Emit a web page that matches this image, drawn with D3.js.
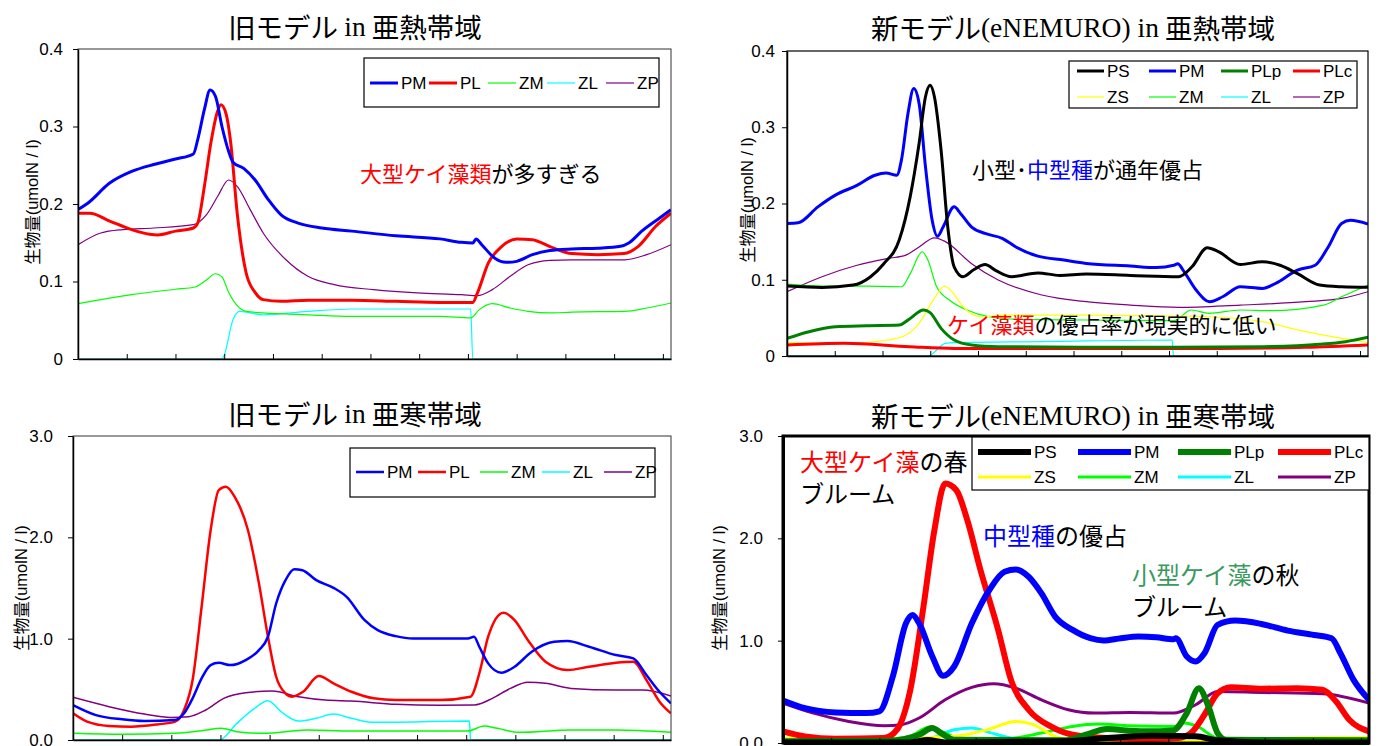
<!DOCTYPE html>
<html>
<head>
<meta charset="utf-8">
<script src="https://cdn.jsdelivr.net/npm/d3@7"></script>
<style>
  body { margin: 0; background: #fff; }
  text { font-family: "Liberation Sans Narrow", "Liberation Sans", Arial, sans-serif; }
  .jp { font-family: "Noto Sans CJK JP", sans-serif; }
</style>
</head>
<body>
<script>
// days of the year on x, biomass (umolN/l) on y ; each series is [day, value]
const dayTicks = d3.range(0, 361, 30);

// old model, subtropical
const oldTropPM = [[0,0.193],[6,0.201],[19.5,0.227],[33,0.242],[46.6,0.251],[60,0.258],[71,0.2645],[73.7,0.283],[77.8,0.322],[81.3,0.347],[84.6,0.339],[88.6,0.300],[92.7,0.268],[95.4,0.254],[102,0.246],[109,0.231],[117,0.206],[125,0.186],[136,0.175],[150,0.169],[168.6,0.165],[195.7,0.159],[222.8,0.155],[236,0.1505],[243,0.1497],[245,0.155],[248.5,0.1475],[256.6,0.130],[263.4,0.1247],[270,0.126],[279.7,0.1346],[290.5,0.140],[304,0.142],[320,0.143],[334,0.1454],[339,0.1497],[347,0.165],[358,0.182],[365,0.1927]];
const oldTropPL = [[0,0.188],[7.3,0.188],[19.5,0.178],[33,0.167],[44,0.161],[49,0.160],[60,0.165],[71,0.169],[73.7,0.1755],[77.8,0.223],[81.8,0.279],[85.9,0.3196],[88,0.328],[91.3,0.315],[94,0.279],[98,0.188],[103.5,0.111],[109,0.086],[114,0.0766],[125,0.0744],[141.5,0.0757],[168.6,0.0757],[195.7,0.0744],[222.8,0.073],[243,0.073],[245.8,0.085],[252.6,0.124],[260.7,0.145],[270,0.155],[279.7,0.154],[290.5,0.145],[304,0.136],[320,0.1346],[336,0.136],[344.7,0.145],[355.5,0.171],[365,0.188]];
const oldTropZM = [[0,0.0714],[33,0.083],[60,0.090],[72,0.0929],[79,0.102],[84.6,0.110],[88.6,0.106],[92.7,0.086],[98,0.0688],[103.5,0.0615],[114,0.0594],[141.5,0.057],[168.6,0.055],[222.8,0.055],[241.7,0.053],[247,0.0637],[255,0.0714],[266,0.0658],[277,0.0615],[290.5,0.0594],[304,0.0606],[336.6,0.0615],[350,0.0658],[365,0.0723]];
const oldTropZL = [[0,0],[88.6,0],[90,0.005],[95.4,0.0507],[99.5,0.0615],[114,0.057],[141.5,0.0615],[168.6,0.0645],[241.7,0.0645],[243,0],[365,0]];
const oldTropZP = [[0,0.1475],[14,0.1626],[27.6,0.167],[46.6,0.169],[71,0.1733],[79,0.186],[86,0.210],[92.7,0.231],[98,0.2228],[106,0.1927],[114,0.1626],[128,0.128],[141.5,0.1067],[157.7,0.0959],[182,0.0895],[209,0.0852],[236,0.083],[245.8,0.0817],[255,0.0895],[266,0.1067],[277,0.1217],[290.5,0.1273],[304,0.128],[336.6,0.128],[350,0.1346],[365,0.1475]];

// new model (eNEMURO), subtropical
const newTropPS = [[0,0.0917],[22,0.090],[41.5,0.093],[52.5,0.104],[60.8,0.121],[70.5,0.152],[77.4,0.209],[83,0.279],[87,0.340],[89.9,0.355],[92.6,0.340],[96.8,0.270],[101,0.169],[105,0.117],[110.6,0.104],[117.5,0.1135],[124.4,0.120],[131.3,0.112],[141,0.104],[157.6,0.109],[171.4,0.1057],[188,0.1074],[215.7,0.1057],[246,0.104],[254.4,0.117],[264,0.142],[271,0.137],[284.8,0.120],[298.6,0.1236],[309.7,0.119],[320.7,0.108],[334.6,0.093],[348.4,0.0908],[365,0.090]];
const newTropPM = [[0,0.1738],[7,0.1747],[19.4,0.1956],[30.4,0.211],[44.2,0.224],[55.3,0.237],[62.2,0.240],[69,0.237],[71.9,0.257],[76,0.318],[79.6,0.3507],[83,0.331],[87,0.248],[91.2,0.178],[94.5,0.157],[98,0.169],[105,0.1956],[109,0.187],[116,0.169],[124.4,0.1607],[135.5,0.154],[143.8,0.143],[157.6,0.131],[174,0.1258],[188,0.1214],[215.7,0.118],[232,0.116],[243,0.119],[245.5,0.121],[248.8,0.1127],[257,0.0865],[265.4,0.0712],[273.7,0.0777],[284.8,0.0908],[298.6,0.0886],[307,0.0952],[320.7,0.1127],[331.8,0.119],[340,0.143],[348.4,0.1738],[354,0.178],[365,0.173]];
const newTropPLp = [[0,0.0231],[13.8,0.0319],[30.4,0.0384],[50,0.0397],[70.5,0.0406],[77.4,0.0493],[85.7,0.0603],[89.9,0.0568],[96.8,0.0362],[105,0.021],[116,0.0144],[132.7,0.0122],[188,0.0114],[243,0.0114],[298.6,0.0122],[334.6,0.0153],[351,0.0188],[365,0.0245]];
const newTropPLc = [[0,0.0144],[36,0.0166],[77,0.0122],[105,0.010],[188,0.010],[271,0.010],[326,0.0114],[365,0.0144]];
const newTropZS = [[0,0.0175],[36,0.0166],[63.6,0.021],[74.7,0.0275],[83,0.0428],[91.2,0.0712],[99,0.0917],[103.7,0.0843],[110.6,0.0646],[121.7,0.0515],[138,0.0537],[188,0.0537],[243,0.0524],[265.4,0.0515],[298.6,0.045],[326,0.0319],[348.4,0.0231],[365,0.0175]];
const newTropZM = [[0,0.0943],[22,0.0917],[50,0.0917],[72,0.0908],[77.4,0.108],[85,0.1367],[88.5,0.1258],[94,0.0908],[102,0.0734],[113,0.0603],[127,0.0515],[146.5,0.048],[188,0.0472],[243,0.0463],[254,0.0603],[265,0.0559],[284.8,0.0603],[304,0.0594],[337,0.0668],[348.4,0.0777],[365,0.093]];
const newTropZL = [[0,0],[88.5,0],[99.5,0.0166],[105,0.0175],[160,0.0188],[242,0.021],[242.8,0],[365,0]];
const newTropZP = [[0,0.0843],[22,0.104],[44,0.119],[63.6,0.128],[74.7,0.1323],[83,0.143],[92.6,0.155],[99.5,0.150],[116,0.121],[132.7,0.0996],[160,0.080],[188,0.0712],[215.7,0.0668],[246,0.0638],[284.8,0.0668],[326,0.0712],[348.4,0.0755],[365,0.0843]];

// old model, subarctic
const oldArcPM = [[0,0.345],[14,0.246],[30,0.204],[43.6,0.187],[62.4,0.197],[67.8,0.263],[73,0.411],[78.5,0.608],[84,0.739],[89,0.762],[96,0.739],[105.4,0.789],[113.5,0.887],[119,1.019],[124,1.347],[129.7,1.577],[135,1.686],[140,1.676],[148.5,1.577],[159,1.502],[167,1.413],[178,1.183],[186,1.084],[197,1.025],[207.7,1.002],[223.8,1.002],[241,1.002],[244.8,1.019],[248,0.92],[253.4,0.756],[261.5,0.664],[269.5,0.723],[280,0.871],[293.7,0.969],[301.8,0.976],[315,0.920],[331.4,0.838],[342,0.805],[350,0.641],[358,0.476],[365,0.361]];
const oldArcPL = [[0,0.263],[8.6,0.181],[22,0.138],[35.5,0.131],[51.6,0.154],[62.4,0.181],[67.8,0.296],[73,0.592],[78.5,1.315],[84,2.070],[89,2.465],[93.3,2.498],[98.7,2.399],[106.8,2.070],[113.5,1.545],[119,1.019],[124,0.624],[129.7,0.460],[133.7,0.427],[140.4,0.476],[150,0.631],[159,0.559],[170,0.476],[183.5,0.411],[197,0.394],[223.8,0.394],[242.6,0.427],[248,0.657],[253.4,1.019],[262.8,1.255],[269.5,1.183],[277.6,0.986],[288.4,0.772],[301.8,0.690],[315,0.723],[331.4,0.762],[342,0.772],[350,0.592],[358,0.378],[365,0.263]];
const oldArcZM = [[0,0.066],[30,0.056],[62.4,0.066],[78.5,0.092],[90.6,0.115],[100,0.082],[116,0.066],[143,0.099],[170,0.089],[241,0.089],[251,0.138],[259,0.115],[272,0.076],[304,0.099],[331,0.099],[365,0.076]];
const oldArcZL = [[0,0],[89.3,0],[100,0.164],[110.8,0.312],[119,0.388],[127,0.279],[137.7,0.187],[148.5,0.214],[159,0.256],[170,0.214],[183.5,0.174],[242,0.187],[242.6,0],[365,0]];
const oldArcZP = [[0,0.421],[22,0.329],[43.6,0.256],[59.7,0.223],[70.5,0.230],[81,0.296],[92,0.411],[105.4,0.467],[121.6,0.483],[137.7,0.427],[154,0.394],[170,0.384],[197,0.352],[223.8,0.342],[245,0.345],[256,0.411],[267,0.509],[277.6,0.569],[288.4,0.559],[304,0.509],[331.4,0.493],[347.5,0.493],[365,0.434]];

// new model (eNEMURO), subarctic
const newArcPS = [[0,0.006],[79,0.006],[90,0.03],[101,0.006],[175,0.016],[202,0.049],[229.6,0.07],[257,0.065],[270.7,0.026],[298,0.006],[365,0.006]];
const newArcPM = [[0,0.416],[13.7,0.341],[32.8,0.299],[52,0.292],[60,0.309],[68.4,0.650],[76.6,1.170],[80.7,1.251],[84.8,1.170],[93,0.845],[99.8,0.656],[106.6,0.747],[117.6,1.170],[128.5,1.495],[138,1.674],[145,1.696],[153,1.625],[161,1.462],[169.5,1.235],[180.4,1.105],[191.4,1.024],[199.6,1.001],[210.5,1.024],[221.5,1.040],[232.4,1.033],[243.3,1.014],[244.7,1.024],[251.5,0.845],[257,0.796],[262.5,0.877],[270.7,1.154],[281.6,1.196],[298,1.163],[314.4,1.098],[330.8,1.056],[341.7,1.024],[347.2,0.877],[355.4,0.617],[365,0.422]];
const newArcPLp = [[0,0.016],[65.6,0.023],[84.8,0.081],[93,0.146],[98.4,0.097],[106.6,0.032],[175,0.026],[188.6,0.081],[202,0.136],[216,0.120],[227,0.114],[243,0.123],[251.5,0.292],[259,0.536],[265,0.357],[270.7,0.097],[276,0.032],[365,0.026]];
const newArcPLc = [[0,0.114],[13.7,0.065],[32.8,0.042],[63,0.049],[71,0.130],[79.3,0.520],[87.5,1.333],[94.3,2.080],[101,2.535],[108,2.47],[114.8,2.177],[123,1.690],[134,1.105],[142,0.617],[153,0.325],[166.8,0.162],[180.4,0.081],[202,0.049],[229.6,0.039],[246,0.049],[254,0.097],[262.5,0.276],[270.7,0.487],[279,0.546],[298,0.530],[319.8,0.536],[336,0.520],[344.5,0.406],[352.7,0.227],[365,0.114]];
const newArcZS = [[0,0.049],[52,0.039],[106.6,0.065],[128.5,0.136],[145,0.211],[156,0.179],[169.5,0.065],[188.6,0.016],[270.7,0.016],[298,0.039],[365,0.055]];
const newArcZM = [[0,0.026],[65.6,0.039],[79,0.065],[91.6,0.156],[101,0.097],[112,0.032],[134,0.032],[161,0.097],[180.4,0.162],[196.8,0.185],[216,0.169],[243.3,0.162],[250,0.195],[258,0.162],[270.7,0.049],[298,0.032],[365,0.039]];
const newArcZL = [[0,0],[84.8,0],[95.7,0.065],[106.6,0.130],[117.6,0.146],[128.5,0.104],[142,0.049],[161,0.032],[242,0.039],[243.3,0],[365,0]];
const newArcZP = [[0,0.390],[19,0.292],[41,0.211],[63,0.169],[73.8,0.179],[84.8,0.244],[101,0.422],[117.6,0.543],[131,0.578],[145,0.536],[161,0.422],[177.7,0.325],[194,0.292],[216,0.299],[243.3,0.292],[257,0.374],[270.7,0.504],[298,0.494],[336,0.481],[365,0.390]];

const col = { PS: "#000000", PM: "#0000ff", PLp: "#008000", PLc: "#ff0000", PL: "#ff0000",
              ZS: "#ffff00", ZM: "#00ff00", ZL: "#00ffff", ZP: "#800080" };

const svg = d3.select("body").append("svg").attr("width", 1379).attr("height", 746);

function richText(g, x, y, parts, size, cls) {
  const t = g.append("text").attr("x", x).attr("y", y).attr("font-size", size)
    .attr("dominant-baseline", "central");
  if (cls) t.attr("class", cls);
  parts.forEach(p => {
    const s = t.append("tspan").text(p[0]).attr("fill", p[1] || "#000");
    if (p[2]) s.attr("style", "font-family:" + p[2]);
  });
  return t;
}

const JP = '"Noto Sans CJK JP", sans-serif';
const SERIF = '"Liberation Serif", "DejaVu Serif", serif';

function panel(p) {
  const g = svg.append("g");
  const x = d3.scaleLinear().domain([0, 365]).range([p.left, p.right]);
  const y = d3.scaleLinear().domain([0, p.ymax]).range([p.bottom, p.top]);
  const id = "clip" + p.id;
  g.append("clipPath").attr("id", id).append("rect")
    .attr("x", p.left).attr("y", p.top).attr("width", p.right - p.left).attr("height", p.bottom - p.top);

  // title
  const tt = g.append("text").attr("x", p.titleX).attr("y", p.titleY).attr("text-anchor", "middle")
    .attr("dominant-baseline", "central").attr("font-size", 27.5);
  p.title.forEach(s => tt.append("tspan").text(s[0]).attr("style", "font-family:" + (s[1] ? SERIF : JP)));

  // lines
  const line = d3.line().x(d => x(d[0])).y(d => y(d[1])).curve(d3.curveMonotoneX);
  const lg = g.append("g").attr("clip-path", "url(#" + id + ")");
  p.series.slice().reverse().forEach(s => {
    lg.append("path").datum(s.data).attr("fill", "none").attr("stroke", col[s.name])
      .attr("stroke-width", s.w).attr("stroke-linejoin", "round").attr("d", line);
  });

  // frame
  g.append("rect").attr("x", p.left).attr("y", p.top).attr("width", p.right - p.left)
    .attr("height", p.bottom - p.top).attr("fill", "none").attr("stroke", p.frameColor)
    .attr("stroke-width", p.frame);

  // axes
  g.append("g").attr("transform", "translate(0," + p.bottom + ")")
    .call(d3.axisBottom(x).tickValues(dayTicks).tickSize(-5).tickSizeOuter(0).tickFormat(""))
    .call(a => a.select(".domain").attr("stroke-width", p.frame > 2 ? p.frame : 1.5));
  g.append("g").attr("transform", "translate(" + p.left + ",0)")
    .call(d3.axisLeft(y).tickValues(p.yTicks).tickSize(5).tickSizeOuter(0).tickPadding(p.pad)
      .tickFormat(p.fmt))
    .call(a => a.selectAll("text").attr("font-size", 17).attr("fill", "#000")
      .attr("style", 'font-family:"Liberation Sans Narrow", "Liberation Sans", sans-serif'))
    .call(a => a.select(".domain").attr("stroke-width", p.frame > 2 ? p.frame : 1.5));

  // y title
  const yt = g.append("text").attr("transform", "translate(" + p.ytX + "," + p.ytY + ") rotate(-90)")
    .attr("text-anchor", "middle").attr("dominant-baseline", "central").attr("font-size", 16.5);
  yt.append("tspan").text("生物量").attr("style", "font-family:" + JP);
  yt.append("tspan").text("(umolN / l)").attr("style", 'font-family:"Liberation Sans", sans-serif');

  // legend
  const L = p.legend;
  g.append("rect").attr("x", L.x).attr("y", L.y).attr("width", L.w).attr("height", L.h)
    .attr("fill", "#fff").attr("stroke", "#000").attr("stroke-width", 1.2);
  p.series.forEach((s, i) => {
    const r = Math.floor(i / L.cols), c = i % L.cols;
    const lx = L.x0 + c * L.dx, ly = L.y0 + r * L.dy;
    g.append("line").attr("x1", lx).attr("x2", lx + L.len).attr("y1", ly).attr("y2", ly)
      .attr("stroke", col[s.name]).attr("stroke-width", s.lw || s.w);
    g.append("text").attr("x", lx + L.len + 3).attr("y", ly).attr("dominant-baseline", "central")
      .attr("font-size", 17).attr("fill", "#000").text(s.name);
  });

  // notes
  p.notes.forEach(n => richText(g, n.x, n.y, n.parts, n.size, "jp"));
}

panel({
  id: 1, left: 78, right: 671, top: 49, bottom: 359, ymax: 0.4,
  yTicks: [0, 0.1, 0.2, 0.3, 0.4], fmt: d => d === 0 ? "0" : d3.format(".1f")(d), pad: 10,
  title: [["旧モデル "], ["in", 1], [" 亜熱帯域"]], titleX: 355, titleY: 26,
  ytX: 32, ytY: 202, frame: 1, frameColor: "#333",
  series: [
    { name: "PM", data: oldTropPM, w: 3 }, { name: "PL", data: oldTropPL, w: 3 },
    { name: "ZM", data: oldTropZM, w: 1.2 }, { name: "ZL", data: oldTropZL, w: 1.2 },
    { name: "ZP", data: oldTropZP, w: 1.2 }
  ],
  legend: { x: 364, y: 58, w: 295, h: 49, x0: 370, y0: 83, dx: 59, dy: 0, len: 28, cols: 5 },
  notes: [{ x: 360, y: 172, size: 22, parts: [["大型ケイ藻類", "#ff0000"], ["が多すぎる"]] }]
});

panel({
  id: 2, left: 787, right: 1368, top: 51, bottom: 356, ymax: 0.4,
  yTicks: [0, 0.1, 0.2, 0.3, 0.4], fmt: d => d === 0 ? "0" : d3.format(".1f")(d), pad: 7,
  title: [["新モデル"], ["(eNEMURO) in", 1], ["  亜熱帯域"]], titleX: 1073, titleY: 27,
  ytX: 747, ytY: 200, frame: 1.2, frameColor: "#000",
  series: [
    { name: "PS", data: newTropPS, w: 3 }, { name: "PM", data: newTropPM, w: 3 },
    { name: "PLp", data: newTropPLp, w: 3 }, { name: "PLc", data: newTropPLc, w: 3 },
    { name: "ZS", data: newTropZS, w: 1.2 }, { name: "ZM", data: newTropZM, w: 1.2 },
    { name: "ZL", data: newTropZL, w: 1.2 }, { name: "ZP", data: newTropZP, w: 1.2 }
  ],
  legend: { x: 1069, y: 61, w: 288, h: 47, x0: 1077, y0: 71, dx: 72, dy: 26, len: 27, cols: 4 },
  notes: [
    { x: 972, y: 168, size: 22, parts: [["小型･"], ["中型種", "#0000ff"], ["が通年優占"]] },
    { x: 947, y: 323, size: 22, parts: [["ケイ藻類", "#ff0000"], ["の優占率が現実的に低い"]] }
  ]
});

panel({
  id: 3, left: 73, right: 671, top: 436, bottom: 740, ymax: 3,
  yTicks: [0, 1, 2, 3], fmt: d3.format(".1f"), pad: 15,
  title: [["旧モデル "], ["in", 1], [" 亜寒帯域"]], titleX: 355, titleY: 413,
  ytX: 21, ytY: 588, frame: 1, frameColor: "#333",
  series: [
    { name: "PM", data: oldArcPM, w: 2.5 }, { name: "PL", data: oldArcPL, w: 2.5 },
    { name: "ZM", data: oldArcZM, w: 1.5 }, { name: "ZL", data: oldArcZL, w: 1.5 },
    { name: "ZP", data: oldArcZP, w: 1.5 }
  ],
  legend: { x: 350, y: 448, w: 305, h: 49, x0: 356, y0: 472, dx: 62, dy: 0, len: 28, cols: 5 },
  notes: []
});

panel({
  id: 4, left: 783, right: 1369, top: 436, bottom: 743, ymax: 3,
  yTicks: [0, 1, 2, 3], fmt: d3.format(".1f"), pad: 15,
  title: [["新モデル"], ["(eNEMURO) in", 1], ["  亜寒帯域"]], titleX: 1073, titleY: 415,
  ytX: 719, ytY: 588, frame: 3, frameColor: "#000",
  series: [
    { name: "PS", data: newArcPS, w: 6 }, { name: "PM", data: newArcPM, w: 6 },
    { name: "PLp", data: newArcPLp, w: 6 }, { name: "PLc", data: newArcPLc, w: 6 },
    { name: "ZS", data: newArcZS, w: 3 }, { name: "ZM", data: newArcZM, w: 3 },
    { name: "ZL", data: newArcZL, w: 3 }, { name: "ZP", data: newArcZP, w: 3 }
  ],
  legend: { x: 972, y: 437, w: 397, h: 53, x0: 978, y0: 452, dx: 100, dy: 25, len: 53, cols: 4 },
  notes: [
    { x: 800, y: 460, size: 24, parts: [["大型ケイ藻", "#ff0000"], ["の春"]] },
    { x: 800, y: 492, size: 24, parts: [["ブルーム"]] },
    { x: 983, y: 534, size: 24, parts: [["中型種", "#0000ff"], ["の優占"]] },
    { x: 1132, y: 573, size: 24, parts: [["小型ケイ藻", "#3a9a5e"], ["の秋"]] },
    { x: 1132, y: 605, size: 24, parts: [["ブルーム"]] }
  ]
});
</script>
</body>
</html>
